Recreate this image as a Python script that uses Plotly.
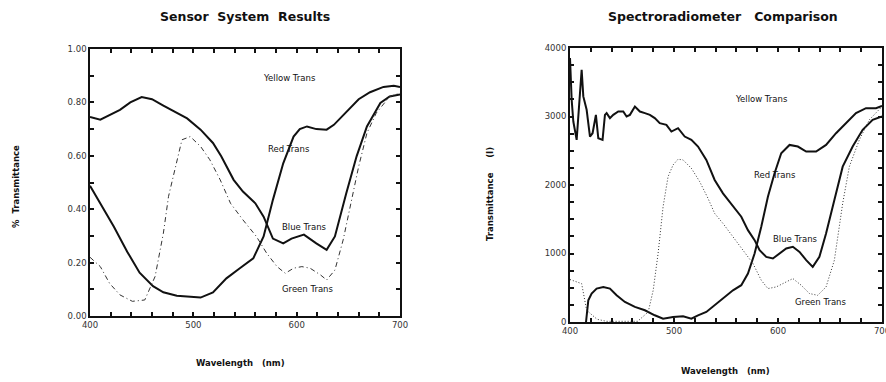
import plotly.graph_objects as go

# ---------------- data: Sensor System Results (left) ----------------
sensor_wl_blue = [400, 410, 429, 439, 450, 460, 471, 484, 494, 507, 519, 527, 539, 548, 560,
                  568, 577, 587, 595, 607, 619, 629, 637, 648, 658, 668, 681, 690, 700]
sensor_blue = [0.745, 0.735, 0.772, 0.80, 0.82, 0.812, 0.788, 0.762, 0.74, 0.698, 0.648, 0.598,
               0.51, 0.466, 0.422, 0.372, 0.29, 0.272, 0.29, 0.305, 0.272, 0.248, 0.298, 0.46,
               0.598, 0.71, 0.798, 0.822, 0.83]

sensor_wl_red = [400, 410, 423, 436, 448, 461, 471, 484, 497, 507, 519, 532, 545, 558, 568,
                 577, 587, 597, 603, 610, 619, 629, 636, 648, 660, 671, 684, 694, 700]
sensor_red = [0.488, 0.422, 0.335, 0.241, 0.162, 0.112, 0.089, 0.076, 0.072, 0.069, 0.088,
              0.141, 0.179, 0.216, 0.298, 0.435, 0.572, 0.672, 0.70, 0.71, 0.70, 0.698, 0.716,
              0.766, 0.812, 0.838, 0.858, 0.862, 0.858]

sensor_wl_green = [400, 410, 419, 429, 441, 453, 463, 471, 476, 486, 489, 497, 507, 516, 526,
                   536, 548, 561, 571, 581, 589, 597, 605, 613, 623, 629, 637, 645, 652, 660,
                   668, 677, 690, 700]
sensor_green = [0.22, 0.185, 0.122, 0.079, 0.055, 0.06, 0.148, 0.31, 0.448, 0.616, 0.66, 0.672,
                0.635, 0.585, 0.51, 0.422, 0.36, 0.298, 0.235, 0.185, 0.16, 0.179, 0.185, 0.179,
                0.154, 0.135, 0.172, 0.285, 0.41, 0.56, 0.685, 0.76, 0.822, 0.835]

# ---------------- data: Spectroradiometer Comparison (right) ----------------
spec_wl_blue = [400, 401.6, 403.2, 406.4, 411.2, 412.8, 416, 419.2, 421.7, 424.9, 427.2, 431.3,
                433.6, 435.2, 438.4, 441.6, 446.4, 451.2, 454.4, 457.6, 462.4, 467.2, 472, 476.8,
                481.5, 486.3, 492.7, 497.5, 503.9, 510.3, 516.7, 523.1, 531.1, 539.1, 547.1,
                556.7, 564.7, 571.1, 577.5, 582.3, 588.7, 595.1, 601.5, 607.9, 614.3, 620.7,
                627.1, 633.4, 639.8, 646.2, 654.2, 662.2, 671.8, 681.4, 691, 700]
spec_blue = [3854, 3244, 2927, 2659, 3683, 3293, 3098, 2707, 2756, 3024, 2683, 2659, 3024, 3049,
             2976, 3024, 3073, 3073, 3000, 3024, 3146, 3073, 3049, 3024, 2976, 2902, 2878, 2780,
             2829, 2707, 2659, 2561, 2366, 2073, 1878, 1683, 1537, 1341, 1195, 1049, 951, 927,
             1000, 1073, 1098, 1024, 902, 805, 951, 1293, 1780, 2268, 2561, 2805, 2951, 3000]

spec_wl_red = [415.4, 417.6, 420.8, 425.6, 432, 438.4, 444.8, 452.8, 462.4, 472, 481.5, 489.5,
               499.1, 508.7, 516.7, 523.1, 531.1, 539.1, 547.1, 556.7, 564.7, 571.1, 577.5,
               583.9, 590.3, 596.7, 603.1, 611.1, 619.1, 627.1, 636.6, 646.2, 655.8, 665.4,
               675, 684.6, 694.2, 700]
spec_red = [0, 317, 415, 488, 512, 488, 390, 293, 220, 171, 98, 49, 73, 83, 49, 98, 146, 244,
            341, 463, 537, 707, 1000, 1390, 1829, 2171, 2463, 2585, 2561, 2488, 2488, 2585,
            2756, 2902, 3049, 3122, 3122, 3156]

spec_wl_green = [400, 411.2, 416, 421, 426, 435, 450, 465, 475.2, 480, 484.7, 489.5, 494.3,
                 499.1, 503.9, 508.7, 516.7, 524.7, 532.7, 539.1, 547.1, 556.7, 566.3, 575.9,
                 583.9, 590.3, 598.3, 607.9, 614.3, 622.3, 630.3, 638.2, 646.2, 654.2, 662.2,
                 668.6, 678.2, 687.8, 700]
spec_green = [620, 560, 171, 110, 40, 10, 5, 10, 146, 463, 1000, 1683, 2122, 2293, 2376, 2366,
              2244, 2049, 1805, 1585, 1439, 1244, 1049, 854, 610, 488, 512, 585, 634, 537, 415,
              390, 512, 902, 1732, 2268, 2659, 2951, 3146]

# tick positions / labels
x_tickvals = list(range(400, 701, 20))
x_ticktext = [str(v) if v % 100 == 0 else "" for v in x_tickvals]
left_y_tickvals = [i / 10 for i in range(0, 11)]
left_y_ticktext = ["%.2f" % v if i % 2 == 0 else "" for i, v in enumerate(left_y_tickvals)]
right_y_tickvals = list(range(0, 4001, 250))
right_y_ticktext = [str(v) if v % 1000 == 0 else "" for v in right_y_tickvals]

# curve labels
label_texts = ["Yellow Trans", "Red Trans", "Blue Trans", "Green Trans"]
left_label_x = [593, 593, 608, 610]
left_label_y = [0.89, 0.625, 0.335, 0.10]
right_label_x = [584, 597, 617, 641]
right_label_y = [3260, 2150, 1210, 290]

FONT = "DejaVu Sans, Verdana, sans-serif"
INK = "#111111"

fig = go.Figure()

# left plot traces
fig.add_trace(go.Scatter(x=sensor_wl_blue, y=sensor_blue, mode="lines",
                         line=dict(color=INK, width=2), xaxis="x", yaxis="y"))
fig.add_trace(go.Scatter(x=sensor_wl_red, y=sensor_red, mode="lines",
                         line=dict(color=INK, width=2), xaxis="x", yaxis="y"))
fig.add_trace(go.Scatter(x=sensor_wl_green, y=sensor_green, mode="lines",
                         line=dict(color="#333333", width=1, dash="5px,3px,1px,3px"),
                         xaxis="x", yaxis="y"))

# right plot traces
fig.add_trace(go.Scatter(x=spec_wl_blue, y=spec_blue, mode="lines",
                         line=dict(color=INK, width=2), xaxis="x2", yaxis="y2"))
fig.add_trace(go.Scatter(x=spec_wl_red, y=spec_red, mode="lines",
                         line=dict(color=INK, width=2), xaxis="x2", yaxis="y2"))
fig.add_trace(go.Scatter(x=spec_wl_green, y=spec_green, mode="lines",
                         line=dict(color="#333333", width=1, dash="1px,2px"),
                         xaxis="x2", yaxis="y2"))

axis_common = dict(showgrid=False, zeroline=False, showline=True, linecolor=INK,
                   mirror="ticks", ticks="inside", ticklen=4, tickwidth=1.5, tickcolor=INK,
                   automargin=False, ticklabeloverflow="allow",
                   tickfont=dict(family=FONT, size=8.5, color="#333333"))

fig.update_layout(
    width=886, height=382, autosize=False,
    margin=dict(l=0, r=0, t=0, b=0, pad=0, autoexpand=False),
    paper_bgcolor="white", plot_bgcolor="white",
    showlegend=False,
    xaxis=dict(domain=[90 / 886, 400 / 886], range=[400, 700], anchor="y",
               tickvals=x_tickvals, ticktext=x_ticktext, linewidth=1.5, **axis_common),
    yaxis=dict(domain=[(382 - 316) / 382, (382 - 49) / 382], range=[0, 1], anchor="x",
               tickvals=left_y_tickvals, ticktext=left_y_ticktext, linewidth=1.5,
               **axis_common),
    xaxis2=dict(domain=[570 / 886, 882 / 886], range=[400, 700], anchor="y2",
                tickvals=x_tickvals, ticktext=x_ticktext, linewidth=1.5, **axis_common),
    yaxis2=dict(domain=[(382 - 322) / 382, (382 - 48) / 382], range=[0, 4000], anchor="x2",
                tickvals=right_y_tickvals, ticktext=right_y_ticktext, linewidth=2,
                **axis_common),
)


def paper_text(text, px, py, size, angle=0):
    return dict(text=text, x=px / 886, y=1 - py / 382, xref="paper", yref="paper",
                xanchor="center", yanchor="middle", showarrow=False, textangle=angle,
                font=dict(family=FONT, size=size, color=INK))


ann = [
    paper_text("<b>Sensor  System  Results</b>", 245, 16, 12.5),
    paper_text("<b>Spectroradiometer   Comparison</b>", 723, 16, 12.5),
    paper_text("<b>Wavelength   (nm)</b>", 240, 363, 8.5),
    paper_text("<b>Wavelength   (nm)</b>", 725, 371, 8.5),
    paper_text("<b>%  Transmittance</b>", 16, 187, 8.5, -90),
    paper_text("<b>Transmittance     (I)</b>", 490, 194, 8.5, -90),
]
for t, xv, yv in zip(label_texts, left_label_x, left_label_y):
    ann.append(dict(text=t, x=xv, y=yv, xref="x", yref="y", showarrow=False,
                    xanchor="center", yanchor="middle",
                    font=dict(family=FONT, size=8.5, color=INK)))
for t, xv, yv in zip(label_texts, right_label_x, right_label_y):
    ann.append(dict(text=t, x=xv, y=yv, xref="x2", yref="y2", showarrow=False,
                    xanchor="center", yanchor="middle",
                    font=dict(family=FONT, size=8.5, color=INK)))

fig.update_layout(annotations=ann)

fig.write_html("out.html")
